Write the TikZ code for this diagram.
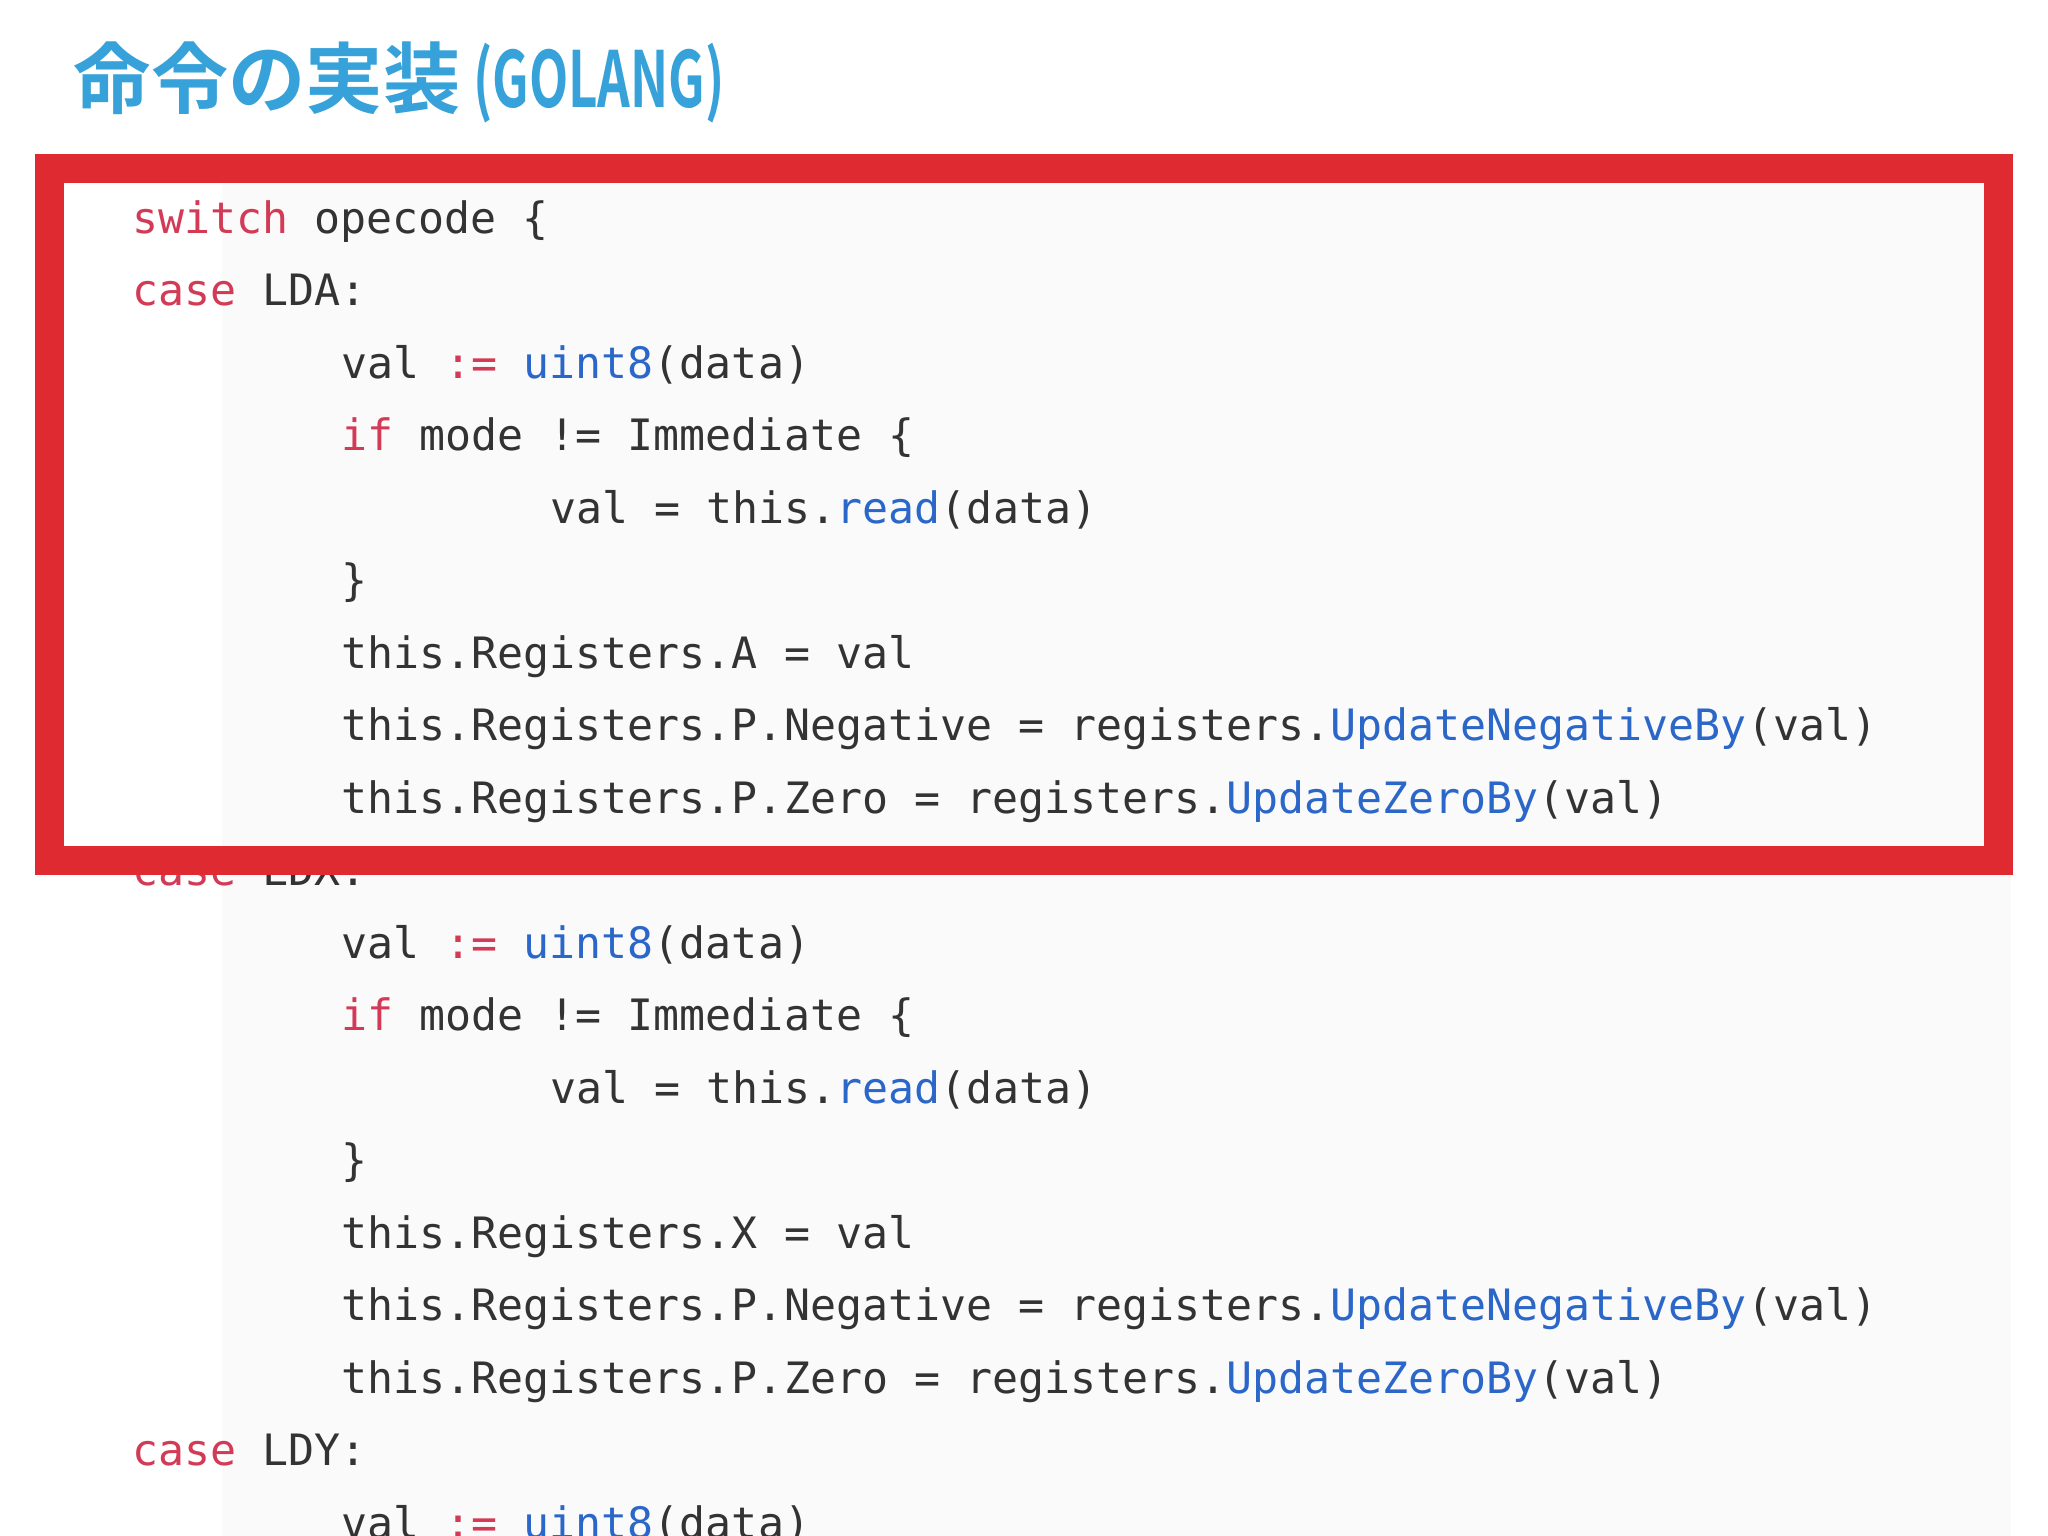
\documentclass[tikz,border=0pt]{standalone}
\usepackage{fontspec}
\setmonofont{DejaVu Sans Mono}
\newfontfamily\cjk{Noto Sans CJK JP Bold}
\definecolor{kw}{HTML}{D23A55}
\definecolor{fn}{HTML}{2B66C9}
\definecolor{tx}{HTML}{333333}
\definecolor{ttl}{HTML}{36A2D9}
\definecolor{frame}{HTML}{E02A32}
\newcommand{\K}[1]{\textcolor{kw}{#1}}
\newcommand{\F}[1]{\textcolor{fn}{#1}}
\begin{document}
\begin{tikzpicture}[x=0.013061cm,y=-0.013061cm,
  code/.style={anchor=base west,inner sep=0,font=\ttfamily\fontsize{12.3}{14}\selectfont,text=tx}]
\useasboundingbox (0,0) rectangle (1568,1176);
\clip (0,0) rectangle (1568,1176);
\fill[white] (0,0) rectangle (1568,1176);
\fill[black!2] (170,140) rectangle (1540,1176);
\node[anchor=base west,inner sep=0,text=ttl,font=\cjk\fontsize{22}{26}\selectfont] (title) at (56,82) {命令の実装\,\scalebox{0.66}[1]{(GOLANG)}};
\node[code] (l1) at (101,179) {\K{switch} opecode \{};
\node[code] (l2) at (101,234) {\K{case} LDA:};
\node[code] (l3) at (261,290) {val \K{:=} \F{uint8}(data)};
\node[code] (l4) at (261,345) {\K{if} mode != Immediate \{};
\node[code] (l5) at (421,401) {val = this.\F{read}(data)};
\node[code] (l6) at (261,456) {\}};
\node[code] (l7) at (261,512) {this.Registers.A = val};
\node[code] (l8) at (261,567) {this.Registers.P.Negative = registers.\F{UpdateNegativeBy}(val)};
\node[code] (l9) at (261,623) {this.Registers.P.Zero = registers.\F{UpdateZeroBy}(val)};
\node[code] (l10) at (101,678) {\K{case} LDX:};
\node[code] (l11) at (261,734) {val \K{:=} \F{uint8}(data)};
\node[code] (l12) at (261,789) {\K{if} mode != Immediate \{};
\node[code] (l13) at (421,845) {val = this.\F{read}(data)};
\node[code] (l14) at (261,900) {\}};
\node[code] (l15) at (261,956) {this.Registers.X = val};
\node[code] (l16) at (261,1011) {this.Registers.P.Negative = registers.\F{UpdateNegativeBy}(val)};
\node[code] (l17) at (261,1067) {this.Registers.P.Zero = registers.\F{UpdateZeroBy}(val)};
\node[code] (l18) at (101,1122) {\K{case} LDY:};
\node[code] (l19) at (261,1178) {val \K{:=} \F{uint8}(data)};
\draw[frame,line width=22*0.013061cm] (38,129) rectangle (1530,659);
\end{tikzpicture}
\end{document}
